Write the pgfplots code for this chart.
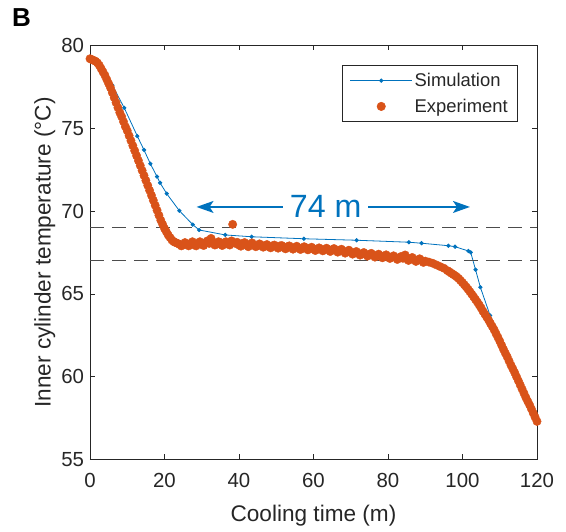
\documentclass[border=0pt]{standalone}
\usepackage{pgfplots}
\pgfplotsset{compat=1.18}
\usepackage{fontspec}
\setmainfont{Liberation Sans}
\usetikzlibrary{arrows.meta}
\definecolor{simblue}{RGB}{0,114,189}
\definecolor{exporange}{RGB}{217,83,25}
\definecolor{axgray}{RGB}{38,38,38}
\newcommand\fs{\fontsize{18.4pt}{22pt}\selectfont}
\newcommand\ft{\fontsize{20.4pt}{24pt}\selectfont}
\newcommand\fl{\fontsize{22.6pt}{27pt}\selectfont}
\begin{document}
\begin{tikzpicture}
\begin{axis}[
  at={(0pt,0pt)}, anchor=south west,
  scale only axis, width=447pt, height=414pt,
  xmin=0, xmax=120, ymin=55, ymax=80,
  xtick={0,20,...,120}, ytick={55,60,...,80},
  tick align=inside, xtick pos=both, ytick pos=both,
  major tick length=5pt,
  axis line style={axgray, line width=0.6pt},
  tick style={axgray, line width=0.6pt},
  /pgf/number format/assume math mode=true,
  tick label style={font=\ft, text=axgray},
  xticklabel shift=10pt,
  yticklabel shift=2.5pt,
  xlabel={Cooling time (m)},
  ylabel={Inner cylinder temperature (°C)},
  every axis x label/.style={at={(axis description cs:0.5,-0.150)}, anchor=base, font=\fl, text=axgray},
  every axis y label/.style={at={(axis description cs:-0.088,0.5)}, rotate=90, anchor=base, font=\fl, text=axgray},
  clip=false,
  legend style={at={(0.9575,0.952)}, anchor=north east, font=\fs, draw=axgray, line width=0.6pt,
    text=axgray, cells={anchor=west}, inner xsep=8pt, inner ysep=5.5pt, row sep=7pt},
  legend image code/.code={\draw[mark repeat=2,mark phase=2,#1] plot coordinates {(0pt,0pt) (31pt,0pt) (62pt,0pt)};},
]
\addplot[simblue, line width=0.8pt, mark=*, mark size=1.7pt] coordinates {
(0,79.2) (3,78.75) (6,77.6) (9.2,76.23) (12.7,74.53) (14.5,73.69) (16.2,72.86) (18.0,72.08)
(18.8,71.71) (20.6,71.05) (24.0,70.02) (27.6,69.18) (29.3,68.86) (36.3,68.56) (43.4,68.45)
(57.4,68.33) (71.6,68.24) (85.6,68.12) (89.0,68.06) (96.2,67.91) (98.0,67.85) (101.6,67.59)
(102.2,67.51) (103.5,66.46) (104.8,65.4) (107.4,63.7) (110.5,62.0) (113.5,60.5) (117,58.8) (120,57.35)
};
\addlegendentry{Simulation}
\addplot[only marks, mark=*, mark size=4.2pt, color=exporange, mark options={draw=exporange, fill=exporange}] coordinates {
(0,79.2) (0.5,79.15) (1,79.1) (1.5,79.05) (2,78.95) (2.5,78.8) (3,78.6) (3.5,78.4) (4,78.2)
(4.5,77.95) (5,77.7) (5.5,77.45) (6,77.15) (6.5,76.85) (7,76.55) (7.5,76.25) (8,75.95)
(8.5,75.7) (9,75.4) (9.5,75.1) (10,74.85) (10.5,74.55) (11,74.25) (11.5,73.95) (12,73.65)
(12.5,73.35) (13,73.05) (13.5,72.75) (14,72.45) (14.5,72.15) (15,71.85) (15.5,71.55)
(16,71.25) (16.5,70.95) (17,70.65) (17.5,70.35) (18,70.05) (18.5,69.75) (19,69.45)
(19.5,69.2) (20,68.95) (20.5,68.75) (21,68.55) (21.5,68.4) (22,68.25) (22.5,68.15)
(23,68.1) (23.5,68.05)
(24,68.0) (25,67.95) (26,68.0) (27,68.05) (28,67.95) (29,68.05) (30,68.0) (31,68.1)
(32,68.05) (32.5,68.35) (33,68.1) (34,68.0) (35,68.1) (36,68.0) (37,68.05) (38,68.2)
(38.3,69.2) (39,68.05) (40,67.95) (41,68.05) (42,67.95) (43,68.0) (44,67.95) (45,67.9)
(46,67.95) (47,67.9) (48,67.85) (49,67.9) (50,67.85) (51,67.9) (52,67.8) (53,67.85)
(54,67.8) (55,67.8) (56,67.78) (57,67.75) (58,67.78) (59,67.72) (60,67.72) (61,67.7)
(62,67.7) (63,67.66) (64,67.68) (65,67.66) (66,67.64) (67,67.62) (68,67.58) (69,67.55)
(70,67.52) (71,67.48) (72,67.45) (73,67.42) (74,67.4) (75,67.37) (76,67.34) (77,67.31)
(78,67.29) (79,67.27) (80,67.25) (81,67.22) (82,67.2) (83,67.17) (84,67.15) (84.6,67.35)
(85,67.12) (86,67.1) (87,67.07) (88,67.05) (89,67.02) (90,66.98) (91,66.92) (92,66.85)
(93,66.75) (94,66.65) (95,66.55) (96,66.4)
(24.5,67.9) (25.5,68.1) (26.5,67.9) (27.5,68.15) (28.5,67.9) (29.5,68.15) (30.5,67.92)
(31.5,68.2) (33.5,67.95) (34.5,68.15) (35.5,67.92) (36.5,68.15) (37.5,67.95) (39.5,68.12)
(40.5,67.88) (41.5,68.1) (42.5,67.85) (43.5,68.08) (44.5,67.85) (45.5,68.02) (46.5,67.82)
(47.5,67.98) (48.5,67.78) (49.5,67.95) (50.5,67.76) (51.5,67.92) (52.5,67.72) (53.5,67.9)
(54.5,67.7) (55.5,67.88) (56.5,67.68) (57.5,67.85) (58.5,67.66) (59.5,67.82) (60.5,67.62)
(61.5,67.78) (62.5,67.6) (63.5,67.76) (64.5,67.56) (65.5,67.74) (66.5,67.52) (67.5,67.7)
(68.5,67.46) (69.5,67.64) (70.5,67.4) (71.5,67.56) (72.5,67.34) (73.5,67.5) (74.5,67.28)
(75.5,67.45) (76.5,67.22) (77.5,67.4) (78.5,67.18) (79.5,67.36) (80.5,67.14) (81.5,67.3)
(82.5,67.08) (83.5,67.26) (85.5,67.02) (86.5,67.2) (87.5,66.96) (88.5,67.12) (89.5,66.9)
(96.5,66.33) (97,66.25) (97.5,66.18) (98,66.1) (98.5,66.02) (99,65.92) (99.5,65.8)
(100,65.68) (100.5,65.55) (101,65.42) (101.5,65.28) (102,65.13) (102.5,64.98) (103,64.82)
(103.5,64.66) (104,64.5) (104.5,64.33) (105,64.15) (105.5,63.95) (106,63.78) (106.5,63.6)
(107,63.42) (107.5,63.22) (108,63.03) (108.5,62.83) (109,62.6) (109.5,62.38) (110,62.15)
(110.5,61.9) (111,61.65) (111.5,61.42) (112,61.2) (112.5,60.95) (113,60.7) (113.5,60.48)
(114,60.25) (114.5,60.0) (115,59.75) (115.5,59.5) (116,59.25) (116.5,59.0) (117,58.75)
(117.5,58.52) (118,58.3) (118.5,58.05) (119,57.8) (119.5,57.55) (120,57.3)
};
\addlegendentry{Experiment}
\addplot[black!70, line width=0.8pt, dash pattern=on 14pt off 8pt, forget plot] coordinates {(0,69) (120,69)};
\addplot[black!70, line width=0.8pt, dash pattern=on 14pt off 8pt, forget plot] coordinates {(0,67) (120,67)};
\draw[simblue, line width=1.6pt, {Stealth[length=17pt,width=12pt,inset=4pt]}-] (axis cs:28.6,70.25) -- (axis cs:51.9,70.25);
\draw[simblue, line width=1.6pt, -{Stealth[length=17pt,width=12pt,inset=4pt]}] (axis cs:74.7,70.25) -- (axis cs:102,70.25);
\node[simblue, font=\fontsize{32.2pt}{36pt}\selectfont, inner sep=0pt, anchor=center] at (axis cs:63.3,70.27) {74 m};
\end{axis}
\node[anchor=north west, inner sep=0pt, font=\fontsize{26pt}{30pt}\selectfont\bfseries] at (-78pt,451.5pt) {B};
\pgfresetboundingbox
\path (-90pt,-72.5pt) rectangle (476pt,459.5pt);
\end{tikzpicture}
\end{document}
